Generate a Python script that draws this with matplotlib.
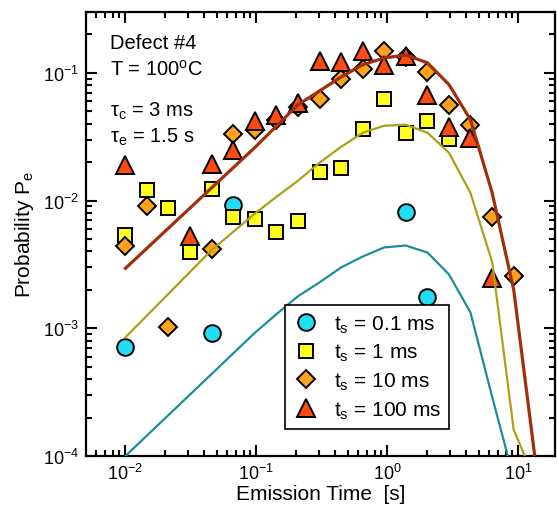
"""
Emission probability vs. emission time for defect #4 at 100 C,
measured for four stress times, with the model curves on top.
"""

import matplotlib
matplotlib.use("Agg")
import matplotlib.pyplot as plt

plt.rcParams["font.family"] = ["Liberation Sans", "DejaVu Sans"]
plt.rcParams["mathtext.fontset"] = "custom"
plt.rcParams["mathtext.rm"] = "Liberation Sans"
plt.rcParams["mathtext.it"] = "Liberation Sans"
plt.rcParams["mathtext.default"] = "regular"

# measured points, one list per stress time t_s
T_01MS = [0.01, 0.0455, 0.066, 1.38, 2.02]
P_01MS = [7.2e-4, 9.2e-4, 9.2e-3, 8.2e-3, 1.75e-3]

T_1MS = [0.01, 0.0146, 0.0213, 0.0312, 0.0455, 0.066, 0.097, 0.142, 0.207,
         0.303, 0.443, 0.647, 0.945, 1.38, 2.02, 2.95]
P_1MS = [5.4e-3, 0.0122, 8.7e-3, 3.95e-3, 0.0124, 7.5e-3, 7.2e-3, 5.7e-3, 6.9e-3,
         0.0167, 0.0181, 0.0362, 0.0625, 0.034, 0.0418, 0.0305]

T_10MS = [0.01, 0.0146, 0.0213, 0.0455, 0.066, 0.097, 0.142, 0.207, 0.303,
          0.443, 0.647, 0.945, 1.38, 2.02, 2.95, 4.3, 6.3, 9.2]
P_10MS = [4.4e-3, 9.0e-3, 1.03e-3, 4.2e-3, 0.0335, 0.0355, 0.043, 0.054, 0.0627,
          0.090, 0.107, 0.149, 0.133, 0.102, 0.0562, 0.0393, 7.5e-3, 2.55e-3]

T_100MS = [0.01, 0.0312, 0.0455, 0.066, 0.097, 0.142, 0.207, 0.303, 0.443,
           0.647, 0.945, 1.38, 2.02, 2.95, 4.3, 6.3]
P_100MS = [0.0191, 5.3e-3, 0.0195, 0.0251, 0.0422, 0.047, 0.0583, 0.124, 0.122,
           0.149, 0.116, 0.135, 0.0673, 0.0379, 0.031, 2.5e-3]

# model curves
T_FIT_HI = [0.01, 0.0455, 0.097, 0.207, 0.303, 0.443, 0.647, 0.945, 1.38, 2.02,
            2.95, 4.3, 6.3, 9.2, 13.4]
P_FIT_HI = [2.95e-3, 0.0126, 0.026, 0.0562, 0.0723, 0.093, 0.116, 0.131, 0.138,
            0.120, 0.081, 0.043, 0.0115, 2.0e-3, 9.5e-5]

T_FIT_1MS = [0.01, 0.0455, 0.097, 0.142, 0.207, 0.303, 0.443, 0.647, 0.945, 1.38,
             2.02, 2.95, 4.3, 6.3, 9.2, 13.4]
P_FIT_1MS = [8.5e-4, 4.1e-3, 7.9e-3, 0.0107, 0.0143, 0.0198, 0.0264, 0.034, 0.0386,
             0.0393, 0.034, 0.0237, 0.0115, 3.3e-3, 1.6e-4, 6.5e-5]

T_FIT_01MS = [0.01, 0.097, 0.142, 0.207, 0.303, 0.443, 0.647, 0.945, 1.38, 2.02,
              2.95, 4.3, 6.3, 9.2]
P_FIT_01MS = [1.0e-4, 9.2e-4, 1.29e-3, 1.78e-3, 2.29e-3, 3.0e-3, 3.65e-3, 4.3e-3,
              4.45e-3, 3.92e-3, 2.64e-3, 1.33e-3, 2.9e-4, 6.7e-5]

NOTES = ["Defect #4", "T = 100$^{o}$C", "τ$_c$ = 3 ms", "τ$_e$ = 1.5 s"]
NOTE_BASELINES = [0.919, 0.858, 0.766, 0.707]  # axes fraction


def main() -> None:
    fig = plt.figure(figsize=(5.57, 5.10), dpi=100)
    ax = fig.add_axes([0.1544, 0.1039, 0.8420, 0.8706])

    mk = dict(linestyle="none", markeredgecolor="black", markeredgewidth=1.4, zorder=3)
    ax.plot(T_01MS, P_01MS, marker="o", markersize=12, markerfacecolor="#20def6",
            label="t$_s$ = 0.1 ms", **mk)
    ax.plot(T_1MS, P_1MS, marker="s", markersize=10.5, markerfacecolor="#ffff1e",
            label="t$_s$ = 1 ms", **mk)
    ax.plot(T_10MS, P_10MS, marker="D", markersize=9, markerfacecolor="#ffa21e",
            label="t$_s$ = 10 ms", **mk)
    ax.plot(T_100MS, P_100MS, marker="^", markersize=13, markerfacecolor="#ff4a12",
            label="t$_s$ = 100 ms", **mk)

    ax.plot(T_FIT_HI, P_FIT_HI, color="#a0300c", lw=2.3, zorder=4)
    ax.plot(T_FIT_1MS, P_FIT_1MS, color="#a8a214", lw=1.6, zorder=4)
    ax.plot(T_FIT_01MS, P_FIT_01MS, color="#1b8d9d", lw=1.6, zorder=4)

    ax.set_xscale("log")
    ax.set_yscale("log")
    ax.set_xlim(0.005, 19)
    ax.set_ylim(1e-4, 0.3)

    for s in ax.spines.values():
        s.set_linewidth(1.6)
    ax.tick_params(which="both", direction="in", top=True, right=True,
                   labelsize=13, width=1.5)
    ax.tick_params(which="major", length=8, pad=5)
    ax.tick_params(which="minor", length=4)

    ax.set_xlabel("Emission Time  [s]", fontsize=15, labelpad=1)
    ax.set_ylabel("Probability P$_e$", fontsize=15, labelpad=5)

    for note, yb in zip(NOTES, NOTE_BASELINES):
        ax.text(0.051, yb, note, transform=ax.transAxes, fontsize=14.5,
                va="baseline", ha="left")

    leg = ax.legend(loc="lower left", bbox_to_anchor=(0.424, 0.061), borderaxespad=0,
                    fontsize=15, frameon=True, fancybox=False, edgecolor="black",
                    framealpha=1, handletextpad=0.75, labelspacing=0.35,
                    borderpad=0.4, handlelength=1.2)
    leg.get_frame().set_linewidth(1.2)
    leg.set_zorder(5)

    fig.savefig("out.png", dpi=100)
    plt.close(fig)


if __name__ == "__main__":
    main()
